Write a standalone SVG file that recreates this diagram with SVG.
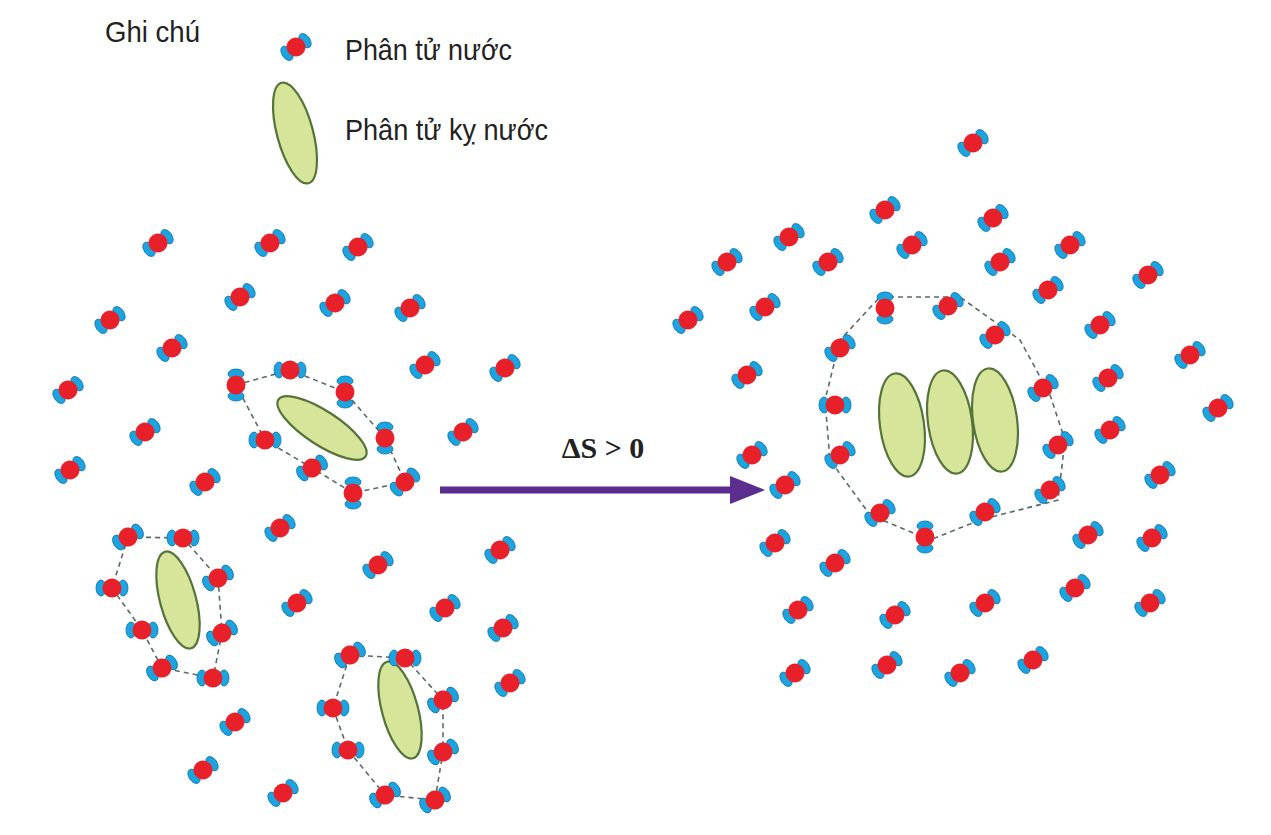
<svg xmlns="http://www.w3.org/2000/svg" xmlns:xlink="http://www.w3.org/1999/xlink" width="1271" height="835" viewBox="0 0 1271 835">
<style>
.t{font-family:"Liberation Sans",Arial,sans-serif;font-size:29px;fill:#222}
.h{fill:#d6e59a;stroke:#55743a;stroke-width:2.2}
.d{fill:none;stroke:#5a6a6a;stroke-width:1.6;stroke-dasharray:5,4}
</style>
<defs>
<g id="w">
<ellipse cx="-11" cy="0" rx="5" ry="8" fill="#1aa5e0" stroke="#0d6fa8" stroke-width="0.8"/>
<ellipse cx="11" cy="0" rx="5" ry="8" fill="#1aa5e0" stroke="#0d6fa8" stroke-width="0.8"/>
<circle r="9.5" fill="#e8202a"/>
</g>
</defs>
<rect width="1271" height="835" fill="#fff"/>
<g id="legend">
<text class="t" x="105" y="42" textLength="95" lengthAdjust="spacingAndGlyphs">Ghi chú</text>
<use xlink:href="#w" transform="translate(296,47) rotate(-35)"/>
<text class="t" x="345" y="60" textLength="167" lengthAdjust="spacingAndGlyphs">Phân tử nước</text>
<ellipse class="h" cx="295" cy="133" rx="18" ry="52" transform="rotate(-15 295 133)"/>
<text class="t" x="345" y="140" textLength="203" lengthAdjust="spacingAndGlyphs">Phân tử kỵ nước</text>
</g>
<g id="left-free">
<use xlink:href="#w" transform="translate(158,243) rotate(-35)"/>
<use xlink:href="#w" transform="translate(270,243) rotate(-35)"/>
<use xlink:href="#w" transform="translate(358,247) rotate(-35)"/>
<use xlink:href="#w" transform="translate(240,297) rotate(-35)"/>
<use xlink:href="#w" transform="translate(335,303) rotate(-35)"/>
<use xlink:href="#w" transform="translate(410,308) rotate(-35)"/>
<use xlink:href="#w" transform="translate(110,320) rotate(-35)"/>
<use xlink:href="#w" transform="translate(172,348) rotate(-35)"/>
<use xlink:href="#w" transform="translate(425,365) rotate(-35)"/>
<use xlink:href="#w" transform="translate(505,368) rotate(-35)"/>
<use xlink:href="#w" transform="translate(68,390) rotate(-35)"/>
<use xlink:href="#w" transform="translate(145,432) rotate(-35)"/>
<use xlink:href="#w" transform="translate(463,432) rotate(-35)"/>
<use xlink:href="#w" transform="translate(70,470) rotate(-35)"/>
<use xlink:href="#w" transform="translate(205,482) rotate(-35)"/>
<use xlink:href="#w" transform="translate(280,528) rotate(-35)"/>
<use xlink:href="#w" transform="translate(500,550) rotate(-35)"/>
<use xlink:href="#w" transform="translate(378,565) rotate(-35)"/>
<use xlink:href="#w" transform="translate(297,603) rotate(-35)"/>
<use xlink:href="#w" transform="translate(445,608) rotate(-35)"/>
<use xlink:href="#w" transform="translate(503,628) rotate(-35)"/>
<use xlink:href="#w" transform="translate(510,683) rotate(-35)"/>
<use xlink:href="#w" transform="translate(235,722) rotate(-35)"/>
<use xlink:href="#w" transform="translate(203,770) rotate(-35)"/>
<use xlink:href="#w" transform="translate(283,793) rotate(-35)"/>
</g>
<g id="cluster1">
<polygon class="d" points="236,385 290,370 345,392 385,438 405,482 353,493 312,468 265,440"/>
<ellipse class="h" cx="322" cy="428" rx="52" ry="17" transform="rotate(33 322 428)"/>
<use xlink:href="#w" transform="translate(236,385) rotate(90)"/>
<use xlink:href="#w" transform="translate(290,370)"/>
<use xlink:href="#w" transform="translate(345,392) rotate(90)"/>
<use xlink:href="#w" transform="translate(385,438) rotate(90)"/>
<use xlink:href="#w" transform="translate(405,482) rotate(-40)"/>
<use xlink:href="#w" transform="translate(353,493) rotate(90)"/>
<use xlink:href="#w" transform="translate(312,468) rotate(-30)"/>
<use xlink:href="#w" transform="translate(265,440)"/>
</g>
<g id="cluster2">
<polygon class="d" points="128,537 183,538 218,578 222,633 213,678 162,668 142,630 112,588"/>
<ellipse class="h" cx="178" cy="600" rx="18" ry="50" transform="rotate(-15 178 600)"/>
<use xlink:href="#w" transform="translate(128,537) rotate(-30)"/>
<use xlink:href="#w" transform="translate(183,538) rotate(0)"/>
<use xlink:href="#w" transform="translate(218,578) rotate(-30)"/>
<use xlink:href="#w" transform="translate(222,633) rotate(-30)"/>
<use xlink:href="#w" transform="translate(213,678) rotate(0)"/>
<use xlink:href="#w" transform="translate(162,668) rotate(-30)"/>
<use xlink:href="#w" transform="translate(142,630) rotate(0)"/>
<use xlink:href="#w" transform="translate(112,588) rotate(0)"/>
</g>
<g id="cluster3">
<polygon class="d" points="350,655 405,658 443,700 443,752 435,800 385,795 348,750 333,708"/>
<ellipse class="h" cx="400" cy="710" rx="18" ry="50" transform="rotate(-15 400 710)"/>
<use xlink:href="#w" transform="translate(350,655) rotate(-30)"/>
<use xlink:href="#w" transform="translate(405,658)"/>
<use xlink:href="#w" transform="translate(443,700) rotate(-30)"/>
<use xlink:href="#w" transform="translate(443,752) rotate(-30)"/>
<use xlink:href="#w" transform="translate(435,800) rotate(-30)"/>
<use xlink:href="#w" transform="translate(385,795) rotate(-30)"/>
<use xlink:href="#w" transform="translate(348,750) rotate(0)"/>
<use xlink:href="#w" transform="translate(333,708) rotate(0)"/>
</g>
<g id="connectors">
<line x1="440" y1="490" x2="735" y2="490" stroke="#5b2d8e" stroke-width="7"/>
<polygon points="765,490 730,476 730,504" fill="#5b2d8e"/>
<text x="603" y="458" text-anchor="middle" style="font-family:'Liberation Serif',serif;font-size:30px;font-weight:bold" fill="#222">ΔS &gt; 0</text>
</g>
<g id="right-free">
<use xlink:href="#w" transform="translate(973,143) rotate(-35)"/>
<use xlink:href="#w" transform="translate(885,210) rotate(-35)"/>
<use xlink:href="#w" transform="translate(993,218) rotate(-35)"/>
<use xlink:href="#w" transform="translate(789,237) rotate(-35)"/>
<use xlink:href="#w" transform="translate(912,245) rotate(-35)"/>
<use xlink:href="#w" transform="translate(1070,245) rotate(-35)"/>
<use xlink:href="#w" transform="translate(727,262) rotate(-35)"/>
<use xlink:href="#w" transform="translate(828,262) rotate(-35)"/>
<use xlink:href="#w" transform="translate(1000,262) rotate(-35)"/>
<use xlink:href="#w" transform="translate(1148,275) rotate(-35)"/>
<use xlink:href="#w" transform="translate(1048,290) rotate(-35)"/>
<use xlink:href="#w" transform="translate(765,307) rotate(-35)"/>
<use xlink:href="#w" transform="translate(688,320) rotate(-35)"/>
<use xlink:href="#w" transform="translate(1100,325) rotate(-35)"/>
<use xlink:href="#w" transform="translate(1190,355) rotate(-35)"/>
<use xlink:href="#w" transform="translate(747,375) rotate(-35)"/>
<use xlink:href="#w" transform="translate(1108,378) rotate(-35)"/>
<use xlink:href="#w" transform="translate(1218,408) rotate(-35)"/>
<use xlink:href="#w" transform="translate(1110,430) rotate(-35)"/>
<use xlink:href="#w" transform="translate(752,455) rotate(-35)"/>
<use xlink:href="#w" transform="translate(785,485) rotate(-35)"/>
<use xlink:href="#w" transform="translate(1160,475) rotate(-35)"/>
<use xlink:href="#w" transform="translate(1088,535) rotate(-35)"/>
<use xlink:href="#w" transform="translate(1152,538) rotate(-35)"/>
<use xlink:href="#w" transform="translate(775,543) rotate(-35)"/>
<use xlink:href="#w" transform="translate(835,563) rotate(-35)"/>
<use xlink:href="#w" transform="translate(1075,588) rotate(-35)"/>
<use xlink:href="#w" transform="translate(985,603) rotate(-35)"/>
<use xlink:href="#w" transform="translate(798,610) rotate(-35)"/>
<use xlink:href="#w" transform="translate(895,615) rotate(-35)"/>
<use xlink:href="#w" transform="translate(1150,603) rotate(-35)"/>
<use xlink:href="#w" transform="translate(795,673) rotate(-35)"/>
<use xlink:href="#w" transform="translate(887,665) rotate(-35)"/>
<use xlink:href="#w" transform="translate(960,673) rotate(-35)"/>
<use xlink:href="#w" transform="translate(1033,660) rotate(-35)"/>
</g>
<g id="cluster-right">
<polygon class="d" points="880,297 960,297 1020,340 1050,395 1065,440 1058,500 980,520 930,540 870,515 830,460 825,400 840,340"/>
<ellipse class="h" cx="902" cy="425" rx="22" ry="52" transform="rotate(-8 902 425)"/>
<ellipse class="h" cx="950" cy="422" rx="22" ry="52" transform="rotate(-8 950 422)"/>
<ellipse class="h" cx="995" cy="420" rx="22" ry="52" transform="rotate(-8 995 420)"/>
<use xlink:href="#w" transform="translate(885,308) rotate(90)"/>
<use xlink:href="#w" transform="translate(948,306) rotate(-35)"/>
<use xlink:href="#w" transform="translate(995,335) rotate(-35)"/>
<use xlink:href="#w" transform="translate(840,348) rotate(-35)"/>
<use xlink:href="#w" transform="translate(1043,388) rotate(-35)"/>
<use xlink:href="#w" transform="translate(835,405) rotate(0)"/>
<use xlink:href="#w" transform="translate(1058,445) rotate(-35)"/>
<use xlink:href="#w" transform="translate(840,455) rotate(-35)"/>
<use xlink:href="#w" transform="translate(1050,490) rotate(-35)"/>
<use xlink:href="#w" transform="translate(880,513) rotate(-35)"/>
<use xlink:href="#w" transform="translate(925,537) rotate(90)"/>
<use xlink:href="#w" transform="translate(985,512) rotate(-35)"/>
</g>
</svg>
